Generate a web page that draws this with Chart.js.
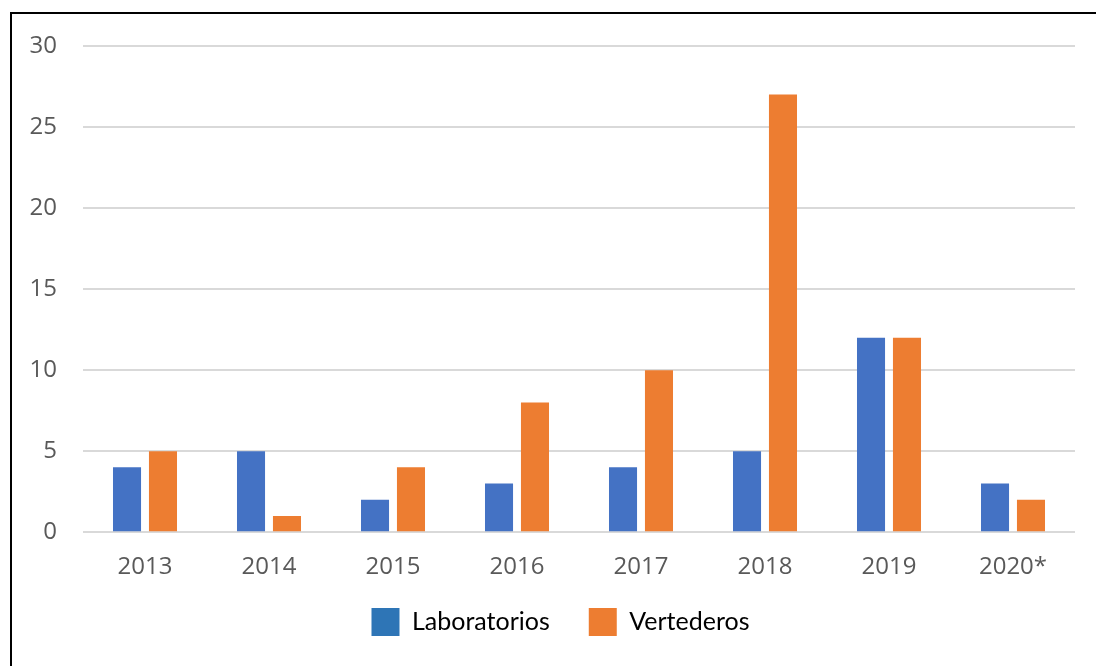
<!DOCTYPE html>
<html>
<head>
<meta charset="utf-8">
<script src="https://cdn.jsdelivr.net/npm/chart.js@4"></script>
<style>
    html, body { margin: 0; padding: 0; background: #fff; }
    #wrap { position: relative; width: 1096px; height: 666px; overflow: hidden; }
    #frame {
        position: absolute; left: 10px; top: 12px; width: 1200px; height: 800px;
        border-left: 2px solid #000; border-top: 2px solid #000;
    }
    canvas { position: absolute; left: 0; top: 0; }
</style>
</head>
<body>
<div id="wrap">
    <div id="frame"></div>
    <canvas id="chart" width="1096" height="666"></canvas>
</div>
<script>
// Categories and series
const years = ["2013", "2014", "2015", "2016", "2017", "2018", "2019", "2020*"];
const laboratorios = [4, 5, 2, 3, 4, 5, 12, 3];
const vertederos = [5, 1, 4, 8, 10, 27, 12, 2];
const yTicks = [0, 5, 10, 15, 20, 25, 30];

// nudge the legend a bit right and up, like in the original figure
const legendShift = {
    id: 'legendShift',
    afterLayout(chart) {
        const l = chart.legend;
        if (!l) return;
        l.left += 23; l.right += 23;
        l.top -= 34; l.bottom -= 34;
    }
};

const ctx = document.getElementById("chart").getContext("2d");

new Chart(ctx, {
    type: 'bar',
    data: {
        labels: years,
        datasets: [
            { label: "Laboratorios", data: laboratorios, backgroundColor: "#4472c4" },
            { label: "Vertederos", data: vertederos, backgroundColor: "#ed7d31" }
        ]
    },
    options: {
        responsive: false,
        animation: false,
        categoryPercentage: 0.58,
        barPercentage: 0.78,
        layout: { padding: { top: 46, right: 21, bottom: -14, left: 0 } },
        scales: {
            x: {
                grid: { display: false, drawTicks: false },
                border: { display: false },
                ticks: {
                    color: "#595959",
                    font: { family: "Open Sans", size: 24 },
                    padding: 21
                }
            },
            y: {
                min: 0,
                max: 30,
                afterFit: scale => { scale.width = 83; },
                afterBuildTicks: scale => { scale.ticks = yTicks.map(v => ({ value: v })); },
                grid: { color: "#d9d9d9", lineWidth: 2, drawTicks: false },
                border: { display: false },
                ticks: {
                    color: "#595959",
                    font: { family: "Open Sans", size: 24 },
                    padding: 26
                }
            }
        },
        plugins: {
            legend: {
                position: 'bottom',
                labels: {
                    boxWidth: 28,
                    boxHeight: 28,
                    padding: 39,
                    color: "#000",
                    font: { family: "Lato", size: 25 },
                    // legend swatch colours differ slightly from the bars
                    generateLabels: chart => chart.data.datasets.map((ds, i) => ({
                        text: ds.label,
                        fillStyle: i === 0 ? "#2e75b6" : "#ed7d31",
                        strokeStyle: "transparent",
                        lineWidth: 0,
                        datasetIndex: i
                    }))
                }
            },
            tooltip: { enabled: false }
        }
    },
    plugins: [legendShift]
});
</script>
</body>
</html>
